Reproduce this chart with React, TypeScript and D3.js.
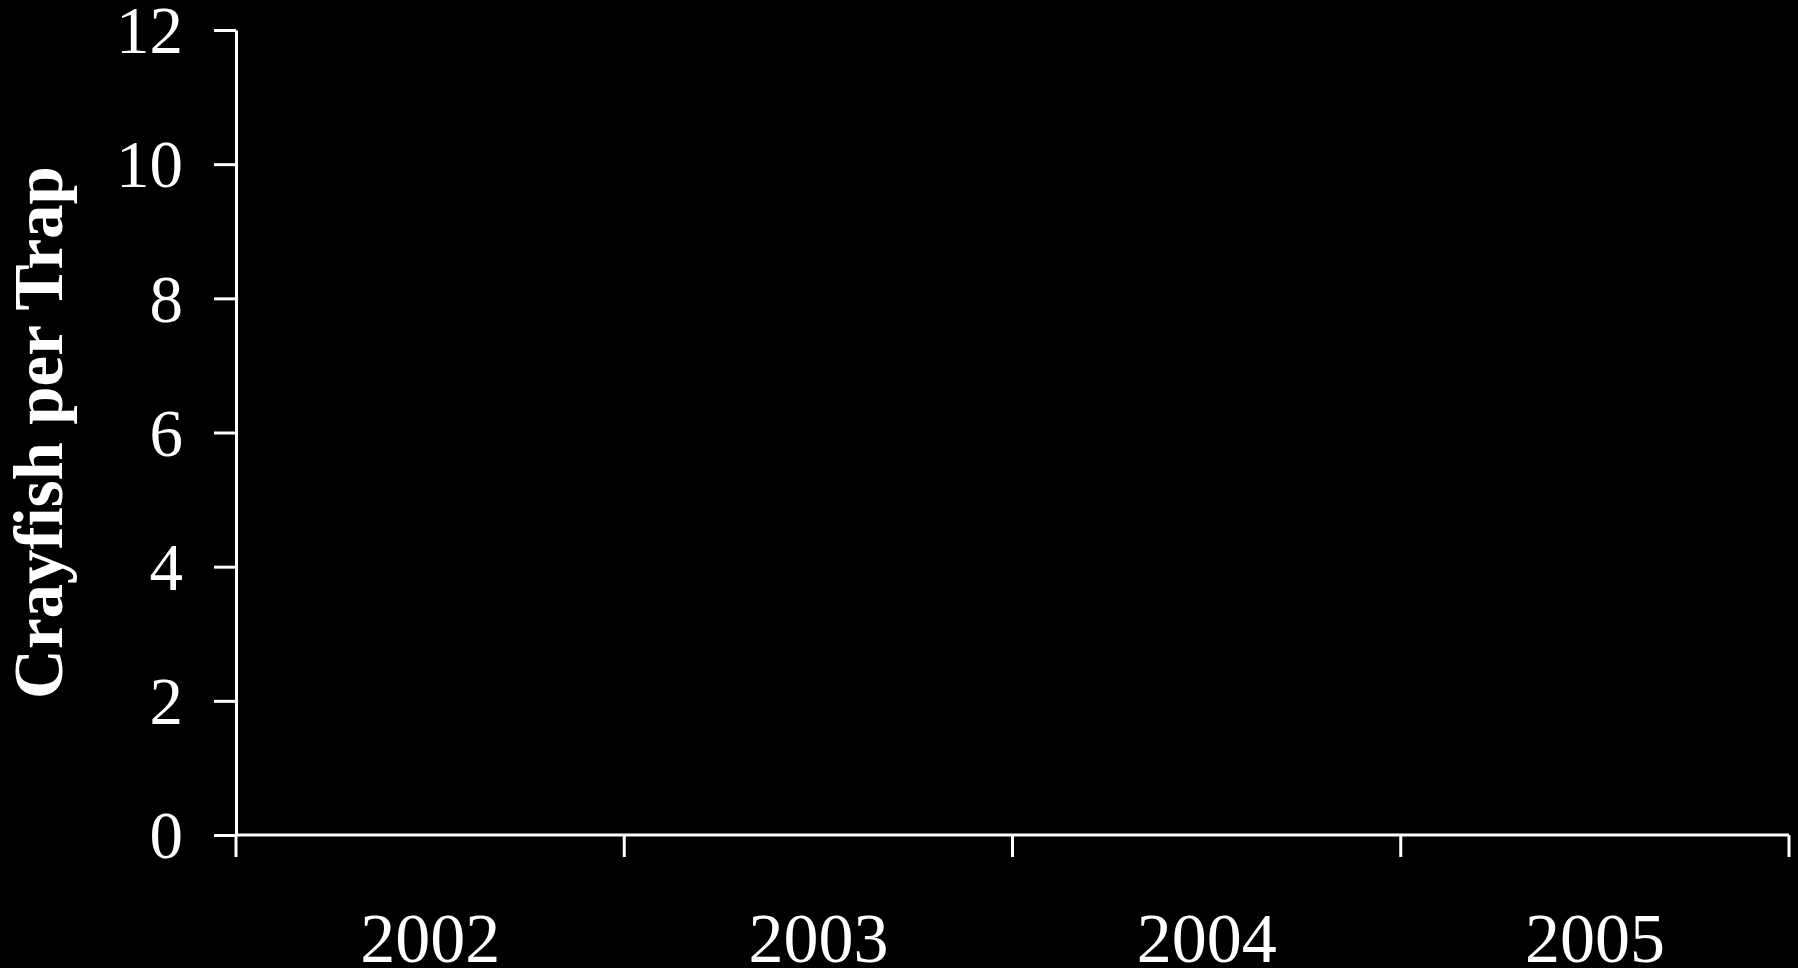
import { useRef, useEffect } from 'react';
import * as d3 from 'd3';

const YEARS = ['2002', '2003', '2004', '2005'];
const Y_TICKS = [0, 2, 4, 6, 8, 10, 12];
const Y_LABEL = 'Crayfish per Trap';

export default function App() {
  const svgRef = useRef<SVGSVGElement>(null);

  useEffect(() => {
    if (!svgRef.current) return;

    const width = 1798;
    const height = 968;
    const margin = { top: 30, right: 9, bottom: 133, left: 236 };
    const font = '"Liberation Serif", "Times New Roman", serif';

    const svg = d3.select(svgRef.current);
    svg.selectAll('*').remove();
    svg.attr('width', width).attr('height', height).attr('viewBox', `0 0 ${width} ${height}`);

    svg.append('rect').attr('width', width).attr('height', height).attr('fill', '#000');

    const x = d3.scaleBand<string>()
      .domain(YEARS)
      .range([margin.left, width - margin.right])
      .paddingInner(0)
      .paddingOuter(0);

    const y = d3.scaleLinear()
      .domain([0, 12])
      .range([height - margin.bottom, margin.top]);

    // Y axis
    svg.append('g')
      .attr('transform', `translate(${margin.left},0)`)
      .call(d3.axisLeft(y).tickValues(Y_TICKS).tickSize(22).tickSizeOuter(0).tickPadding(31))
      .call(g => g.select('.domain').attr('stroke', '#fff').attr('stroke-width', 3))
      .call(g => g.selectAll('.tick line').attr('stroke', '#fff').attr('stroke-width', 3))
      .call(g => g.selectAll('.tick text')
        .attr('fill', '#fff')
        .attr('font-family', font)
        .attr('font-size', '67px')
        .attr('dy', '0.34em'));

    // X axis line
    const y0 = y(0);
    svg.append('line')
      .attr('x1', x.range()[0]).attr('x2', x.range()[1])
      .attr('y1', y0).attr('y2', y0)
      .attr('stroke', '#fff').attr('stroke-width', 3);

    // Category boundary ticks
    const bounds = [...YEARS.map(d => x(d) as number), x.range()[1]];
    svg.append('g')
      .selectAll('line')
      .data(bounds)
      .join('line')
      .attr('x1', d => d).attr('x2', d => d)
      .attr('y1', y0).attr('y2', y0 + 22)
      .attr('stroke', '#fff').attr('stroke-width', 3);

    // Category labels
    svg.append('g')
      .selectAll('text')
      .data(YEARS)
      .join('text')
      .attr('x', d => (x(d) as number) + x.bandwidth() / 2)
      .attr('y', y0 + 127)
      .attr('text-anchor', 'middle')
      .attr('fill', '#fff')
      .attr('font-family', font)
      .attr('font-size', '70px')
      .text(d => d);

    // Y axis title
    svg.append('text')
      .attr('transform', `translate(62,${(y(0) + y(12)) / 2 + 0}) rotate(-90)`)
      .attr('text-anchor', 'middle')
      .attr('fill', '#fff')
      .attr('font-family', font)
      .attr('font-weight', 'bold')
      .attr('font-size', '69px')
      .text(Y_LABEL);
  }, []);

  return (
    <div style={{ position: 'fixed', left: 0, top: 0, width: 1798, height: 968, background: '#000' }}>
      <svg ref={svgRef} style={{ display: 'block' }} />
    </div>
  );
}
